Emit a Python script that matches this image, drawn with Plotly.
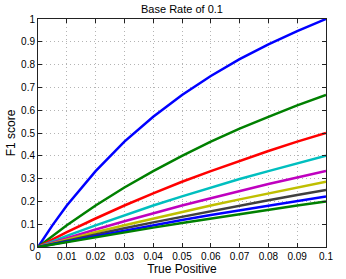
import plotly.graph_objects as go

true_positive = [0, 0.005, 0.01, 0.02, 0.03, 0.04, 0.05, 0.06, 0.07, 0.08, 0.09, 0.1]

f1_series = [
    [0, 0.095, 0.182, 0.333, 0.462, 0.571, 0.667, 0.750, 0.824, 0.889, 0.947, 1.000],
    [0, 0.049, 0.095, 0.182, 0.261, 0.333, 0.400, 0.462, 0.519, 0.571, 0.621, 0.667],
    [0, 0.033, 0.065, 0.125, 0.182, 0.235, 0.286, 0.333, 0.378, 0.421, 0.462, 0.500],
    [0, 0.025, 0.049, 0.095, 0.140, 0.182, 0.222, 0.261, 0.298, 0.333, 0.367, 0.400],
    [0, 0.020, 0.039, 0.077, 0.113, 0.148, 0.182, 0.214, 0.246, 0.276, 0.305, 0.333],
    [0, 0.017, 0.033, 0.065, 0.095, 0.125, 0.154, 0.182, 0.209, 0.235, 0.261, 0.286],
    [0, 0.014, 0.028, 0.056, 0.082, 0.108, 0.133, 0.158, 0.182, 0.205, 0.228, 0.250],
    [0, 0.012, 0.025, 0.049, 0.072, 0.095, 0.118, 0.140, 0.161, 0.182, 0.202, 0.222],
    [0, 0.011, 0.022, 0.044, 0.065, 0.085, 0.105, 0.125, 0.144, 0.163, 0.182, 0.200],
]

colors = ["#0000FF", "#008000", "#FF0000", "#00BFBF", "#BF00BF",
          "#BFBF00", "#404040", "#0000FF", "#008000"]

x_ticks = [0, 0.01, 0.02, 0.03, 0.04, 0.05, 0.06, 0.07, 0.08, 0.09, 0.1]
x_tick_labels = ["0", "0.01", "0.02", "0.03", "0.04", "0.05", "0.06", "0.07", "0.08", "0.09", "0.1"]
y_ticks = [0, 0.1, 0.2, 0.3, 0.4, 0.5, 0.6, 0.7, 0.8, 0.9, 1]
y_tick_labels = ["0", "0.1", "0.2", "0.3", "0.4", "0.5", "0.6", "0.7", "0.8", "0.9", "1"]

fig = go.Figure()
for vals, c in zip(f1_series, colors):
    fig.add_trace(go.Scatter(x=true_positive, y=vals, mode="lines",
                             line=dict(color=c, width=2.5), showlegend=False,
                             cliponaxis=False))

font = "Liberation Sans, Arial, sans-serif"
axis_common = dict(
    showline=True, linecolor="#222222", linewidth=1, mirror="ticks",
    ticks="inside", ticklen=4, tickcolor="#222222",
    showgrid=True, gridcolor="#B4B4B4", griddash="1px,3px", gridwidth=1,
    zeroline=False, automargin=False,
    tickfont=dict(family=font, size=10, color="#000000"),
)

fig.update_layout(
    width=346, height=279,
    margin=dict(l=38, r=20, t=19, b=32),
    paper_bgcolor="white", plot_bgcolor="white",
    title=dict(text="Base Rate of 0.1", x=0.5, xref="paper", xanchor="center",
               y=1, yref="container", yanchor="top", pad=dict(t=5),
               font=dict(family=font, size=11, color="#000000")),
    xaxis=dict(range=[0, 0.1], tickvals=x_ticks, ticktext=x_tick_labels,
               title=dict(text="True Positive", standoff=0,
                          font=dict(family=font, size=12, color="#000000")),
               **axis_common),
    yaxis=dict(range=[0, 1], tickvals=y_ticks, ticktext=y_tick_labels,
               title=dict(text="F1 score", standoff=2,
                          font=dict(family=font, size=12, color="#000000")),
               **axis_common),
)

fig.write_html("out.html",
               config={"displayModeBar": False},
               post_script="document.body.style.margin='0';document.body.style.overflow='hidden';")
